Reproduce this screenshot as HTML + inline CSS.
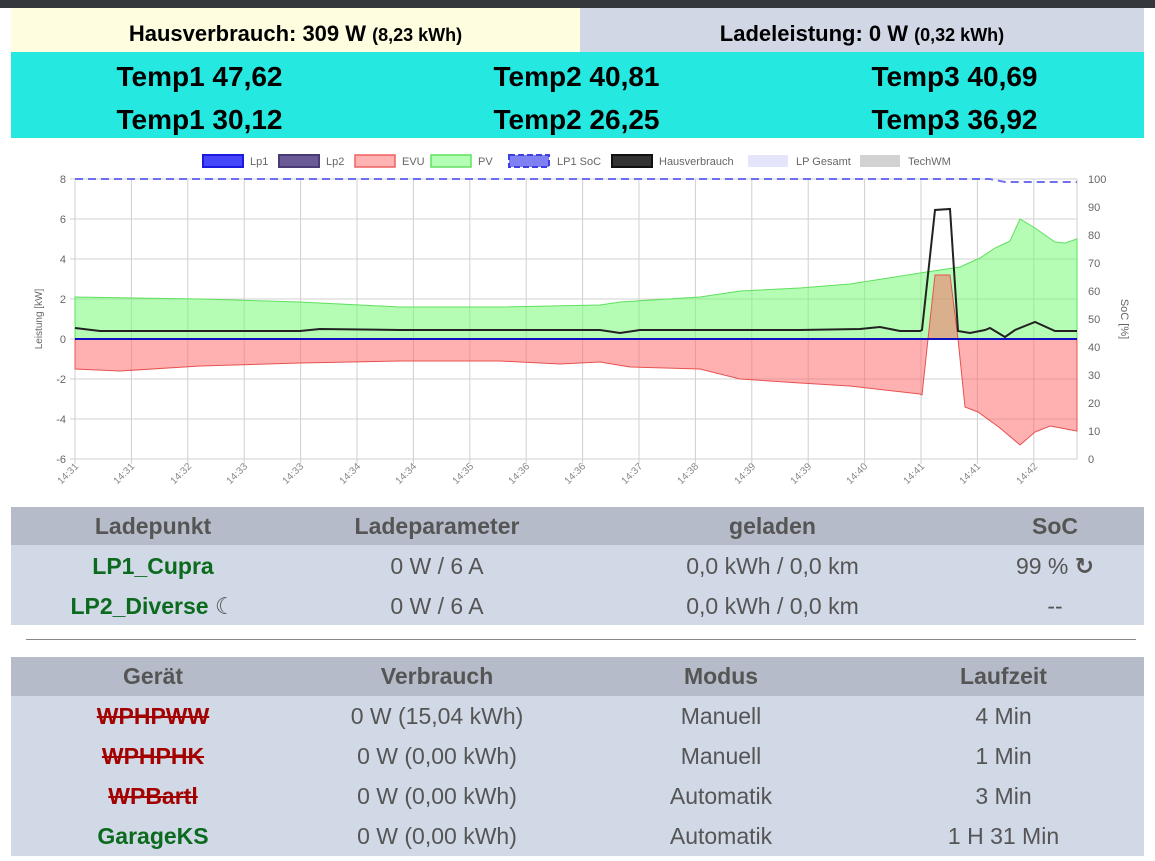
<!DOCTYPE html>
<html><head><meta charset="utf-8"><style>
body{margin:0;width:1155px;height:861px;overflow:hidden;background:#fff;font-family:"Liberation Sans","DejaVu Sans",sans-serif;position:relative}
.abs{position:absolute}
.c{text-align:center}
table{border-collapse:collapse;position:absolute;left:11px;width:1133px;font-size:23px}
td,th{text-align:center;padding:0;color:#555}
th{background:#b5bbc8;font-weight:bold}
tr.r td{background:#d1d8e6}
.g{color:#0b6a1e;font-weight:bold}
.s{color:#a30000;font-weight:bold;text-decoration:line-through}
</style></head><body>
<div class="abs" style="left:0;top:0;width:1155px;height:8px;background:#34373c"></div>
<div class="abs c" style="left:11px;top:8px;width:569px;height:44px;background:#fefde0;font-weight:bold;font-size:22px;line-height:52px">Hausverbrauch: 309 W <span style="font-size:18px">(8,23 kWh)</span></div>
<div class="abs c" style="left:580px;top:8px;width:564px;height:44px;background:#d1d7e5;font-weight:bold;font-size:22px;line-height:52px">Ladeleistung: 0 W <span style="font-size:18px">(0,32 kWh)</span></div>
<div class="abs" style="left:11px;top:52px;width:1133px;height:86px;background:#25e8e0;font-weight:bold;font-size:28px">
<div class="abs c" style="left:0;width:377px;top:9px">Temp1 47,62</div>
<div class="abs c" style="left:377px;width:377px;top:9px">Temp2 40,81</div>
<div class="abs c" style="left:754px;width:379px;top:9px">Temp3 40,69</div>
<div class="abs c" style="left:0;width:377px;top:52px">Temp1 30,12</div>
<div class="abs c" style="left:377px;width:377px;top:52px">Temp2 26,25</div>
<div class="abs c" style="left:754px;width:379px;top:52px">Temp3 36,92</div>
</div>
<svg class="abs" style="left:0;top:0" width="1155" height="505" font-family="Liberation Sans,sans-serif">
<g font-size="11" fill="#666">
<rect x="203" y="155" width="40" height="12" fill="#4646fa" stroke="#1a1ae0" stroke-width="2"/><text x="250" y="165">Lp1</text>
<rect x="279" y="155" width="40" height="12" fill="#6c5a96" stroke="#4a3a78" stroke-width="2"/><text x="326" y="165">Lp2</text>
<rect x="355" y="155" width="40" height="12" fill="#ffb3b3" stroke="#f06060" stroke-width="1.5"/><text x="402" y="165">EVU</text>
<rect x="431" y="155" width="40" height="12" fill="#b3ffb3" stroke="#60e060" stroke-width="1.5"/><text x="478" y="165">PV</text>
<rect x="509" y="155" width="40" height="12" fill="#8080f5" stroke="#4040e0" stroke-width="2" stroke-dasharray="6,3"/><text x="557" y="165">LP1 SoC</text>
<rect x="612" y="155" width="40" height="12" fill="#333" stroke="#111" stroke-width="2"/><text x="659" y="165">Hausverbrauch</text>
<rect x="748" y="155" width="40" height="12" fill="#e4e4fa"/><text x="796" y="165">LP Gesamt</text>
<rect x="860" y="155" width="40" height="12" fill="#d2d2d2"/><text x="908" y="165">TechWM</text>
</g>
<g stroke="#d0d0d0" stroke-width="1">
<line x1="70" y1="179" x2="1077" y2="179"/><line x1="70" y1="219" x2="1077" y2="219"/><line x1="70" y1="259" x2="1077" y2="259"/><line x1="70" y1="299" x2="1077" y2="299"/><line x1="70" y1="339" x2="1077" y2="339"/><line x1="70" y1="379" x2="1077" y2="379"/><line x1="70" y1="419" x2="1077" y2="419"/><line x1="70" y1="459" x2="1077" y2="459"/>
<line x1="75" y1="179" x2="75" y2="464"/><line x1="131.4" y1="179" x2="131.4" y2="464"/><line x1="187.8" y1="179" x2="187.8" y2="464"/><line x1="244.2" y1="179" x2="244.2" y2="464"/><line x1="300.6" y1="179" x2="300.6" y2="464"/><line x1="357" y1="179" x2="357" y2="464"/><line x1="413.4" y1="179" x2="413.4" y2="464"/><line x1="469.8" y1="179" x2="469.8" y2="464"/><line x1="526.2" y1="179" x2="526.2" y2="464"/><line x1="582.6" y1="179" x2="582.6" y2="464"/><line x1="639" y1="179" x2="639" y2="464"/><line x1="695.4" y1="179" x2="695.4" y2="464"/><line x1="751.8" y1="179" x2="751.8" y2="464"/><line x1="808.2" y1="179" x2="808.2" y2="464"/><line x1="864.6" y1="179" x2="864.6" y2="464"/><line x1="921" y1="179" x2="921" y2="464"/><line x1="977.4" y1="179" x2="977.4" y2="464"/><line x1="1033.8" y1="179" x2="1033.8" y2="464"/>
<line x1="1077" y1="179" x2="1077" y2="459"/>
</g>
<polygon fill="rgba(120,250,120,0.55)" stroke="#5fe05f" stroke-width="1" points="75,339 75,297 200,299 300,302 400,307 500,307 600,305 620,302 700,297 740,291 800,288 850,284 920,273 940,270 960,267 980,258 995,248 1010,241 1020,219 1035,228 1055,242 1065,243 1077,239 1077,339"/>
<polygon fill="rgba(255,100,100,0.5)" stroke="#e85050" stroke-width="1" points="75,339 75,369 120,371 200,366 300,363 400,361 500,361 560,364 600,362 630,367 700,369 740,379 800,383 850,386 920,394 922,395 928,339 935,275 950,275 958,339 965,407 978,412 1000,428 1020,445 1035,432 1050,426 1077,431 1077,339"/>
<polyline fill="none" stroke="#7070ee" stroke-width="2" stroke-dasharray="8,5" points="75,179 990,179 1005,182 1077,182"/>
<polyline fill="none" stroke="#222" stroke-width="2" points="75,328 100,331 300,331 320,329 400,330 600,330 620,333 640,330 800,330 860,329 880,327 900,331 920,331 922,330 935,210 950,209 958,331 970,333 985,330 990,328 1005,337 1015,330 1035,322 1055,331 1077,331"/>
<line x1="75" y1="339" x2="1077" y2="339" stroke="#1010c0" stroke-width="2"/>
<g font-size="11" fill="#666" text-anchor="end">
<text x="66" y="183">8</text><text x="66" y="223">6</text><text x="66" y="263">4</text><text x="66" y="303">2</text><text x="66" y="343">0</text><text x="66" y="383">-2</text><text x="66" y="423">-4</text><text x="66" y="463">-6</text>
</g>
<g font-size="11" fill="#666">
<text x="1088" y="183">100</text><text x="1088" y="211">90</text><text x="1088" y="239">80</text><text x="1088" y="267">70</text><text x="1088" y="295">60</text><text x="1088" y="323">50</text><text x="1088" y="351">40</text><text x="1088" y="379">30</text><text x="1088" y="407">20</text><text x="1088" y="435">10</text><text x="1088" y="463">0</text>
</g>
<text transform="translate(42,319) rotate(-90)" font-size="10" fill="#666" text-anchor="middle">Leistung [kW]</text>
<text transform="translate(1121,319) rotate(90)" font-size="11" fill="#666" text-anchor="middle">SoC [%]</text>
<g font-size="10" fill="#888" text-anchor="end">
<text transform="translate(79,467) rotate(-45)">14:31</text><text transform="translate(135,467) rotate(-45)">14:31</text><text transform="translate(192,467) rotate(-45)">14:32</text><text transform="translate(248,467) rotate(-45)">14:33</text><text transform="translate(304,467) rotate(-45)">14:33</text><text transform="translate(361,467) rotate(-45)">14:34</text><text transform="translate(417,467) rotate(-45)">14:34</text><text transform="translate(474,467) rotate(-45)">14:35</text><text transform="translate(530,467) rotate(-45)">14:36</text><text transform="translate(586,467) rotate(-45)">14:36</text><text transform="translate(643,467) rotate(-45)">14:37</text><text transform="translate(699,467) rotate(-45)">14:38</text><text transform="translate(756,467) rotate(-45)">14:39</text><text transform="translate(812,467) rotate(-45)">14:39</text><text transform="translate(868,467) rotate(-45)">14:40</text><text transform="translate(925,467) rotate(-45)">14:41</text><text transform="translate(981,467) rotate(-45)">14:41</text><text transform="translate(1038,467) rotate(-45)">14:42</text>
</g>
</svg>
<table style="top:507px">
<tr style="height:38px"><th style="width:284px">Ladepunkt</th><th style="width:284px">Ladeparameter</th><th style="width:387px">geladen</th><th>SoC</th></tr>
<tr class="r" style="height:42px"><td class="g">LP1_Cupra</td><td>0 W / 6 A</td><td>0,0 kWh / 0,0 km</td><td>99 % <b>&#x21bb;</b></td></tr>
<tr class="r" style="height:38px"><td class="g">LP2_Diverse <span style="color:#555">&#x263E;</span></td><td>0 W / 6 A</td><td>0,0 kWh / 0,0 km</td><td>--</td></tr>
</table>
<div class="abs" style="left:26px;top:639px;width:1110px;height:1px;background:#888"></div>
<table style="top:657px">
<tr style="height:39px"><th style="width:284px">Gerät</th><th style="width:284px">Verbrauch</th><th style="width:284px">Modus</th><th>Laufzeit</th></tr>
<tr class="r" style="height:40px"><td class="s">WPHPWW</td><td>0 W (15,04 kWh)</td><td>Manuell</td><td>4 Min</td></tr>
<tr class="r" style="height:40px"><td class="s">WPHPHK</td><td>0 W (0,00 kWh)</td><td>Manuell</td><td>1 Min</td></tr>
<tr class="r" style="height:40px"><td class="s">WPBartl</td><td>0 W (0,00 kWh)</td><td>Automatik</td><td>3 Min</td></tr>
<tr class="r" style="height:40px"><td class="g">GarageKS</td><td>0 W (0,00 kWh)</td><td>Automatik</td><td>1 H 31 Min</td></tr>
</table>
</body></html>
